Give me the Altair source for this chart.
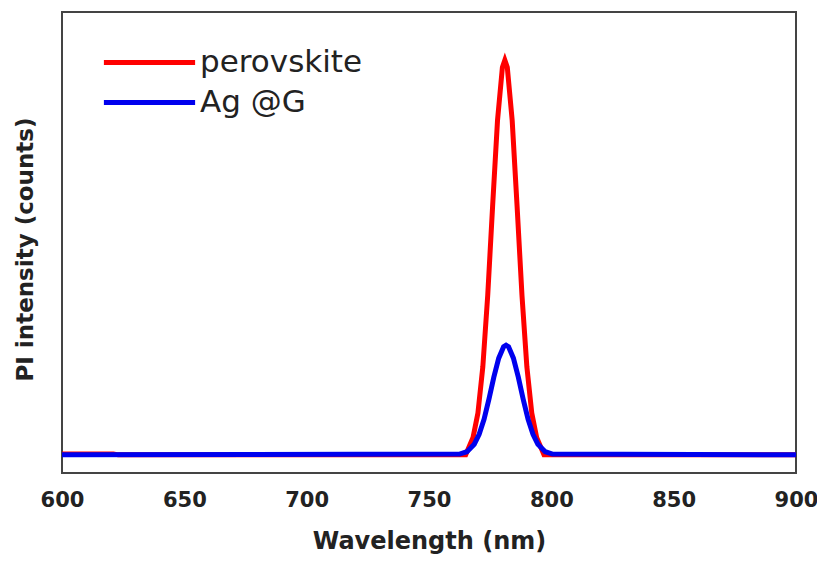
import altair as alt
import pandas as pd

# Values (counts, arbitrary units; baseline = 0)
red_wl = [600, 621, 623, 765, 768, 770, 772, 774, 776, 778, 780, 781, 782, 784, 786, 788, 790, 792, 794, 797, 900]
red_int = [2, 2, 0, 0, 44, 106, 223, 404, 630, 847, 982, 1000, 982, 847, 630, 404, 223, 106, 44, 0, 0]

blue_wl = [600, 762.5, 765.5, 768.5, 770.5, 772.5, 774.5, 776.5, 778.5, 780.5, 781.5, 782.5, 784.5, 786.5, 788.5, 790.5, 792.5, 794.5, 797.5, 800.5, 900]
blue_int = [0, 2, 8, 27, 52, 90, 141, 197, 245, 274, 278, 274, 245, 197, 141, 90, 52, 27, 8, 2, 0]

series = ["perovskite", "Ag @G"]
colors = ["#ff0000", "#0000ee"]
x_ticks = [600, 650, 700, 750, 800, 850, 900]

df = pd.concat([
    pd.DataFrame({"wl": red_wl, "val": red_int, "s": series[0], "o": 0}),
    pd.DataFrame({"wl": blue_wl, "val": blue_int, "s": series[1], "o": 1}),
], ignore_index=True)

chart = alt.Chart(df).mark_line(strokeWidth=5, clip=True).encode(
    x=alt.X("wl:Q",
            scale=alt.Scale(domain=[600, 900], nice=False, zero=False),
            axis=alt.Axis(values=x_ticks, title="Wavelength (nm)", grid=False, ticks=False,
                          domain=False, labelFont="DejaVu Sans", labelFontWeight="bold",
                          labelFontSize=21, labelColor="#222", labelPadding=16,
                          titleFont="DejaVu Sans", titleFontWeight="bold", titleFontSize=24,
                          titleColor="#222", titlePadding=19, labelFlush=False)),
    y=alt.Y("val:Q",
            scale=alt.Scale(domain=[-46, 1122], nice=False, zero=False),
            axis=alt.Axis(labels=False, ticks=False, domain=False, grid=False,
                          title="PI intensity (counts)", titleFont="DejaVu Sans",
                          titleFontWeight="bold", titleFontSize=23, titleColor="#222",
                          titlePadding=25, titleY=237)),
    color=alt.Color("s:N",
                    scale=alt.Scale(domain=series, range=colors),
                    legend=alt.Legend(title=None, orient="none", legendX=72, legendY=35,
                                      symbolType="M-4,0H4", symbolSize=520,
                                      symbolStrokeWidth=5, labelFont="DejaVu Sans",
                                      labelFontSize=31, labelColor="#222", labelOffset=35,
                                      rowPadding=8, padding=0, labelLimit=400)),
    detail="s:N",
    order="o:Q",
).properties(
    width=734, height=461,
    autosize=alt.AutoSizeParams(type="none"),
    padding={"left": 54, "top": 4, "right": 21, "bottom": 83},
).configure_view(
    stroke="#444", strokeWidth=2
)

chart.save("out.html", embed_options={"renderer": "svg", "actions": False})
